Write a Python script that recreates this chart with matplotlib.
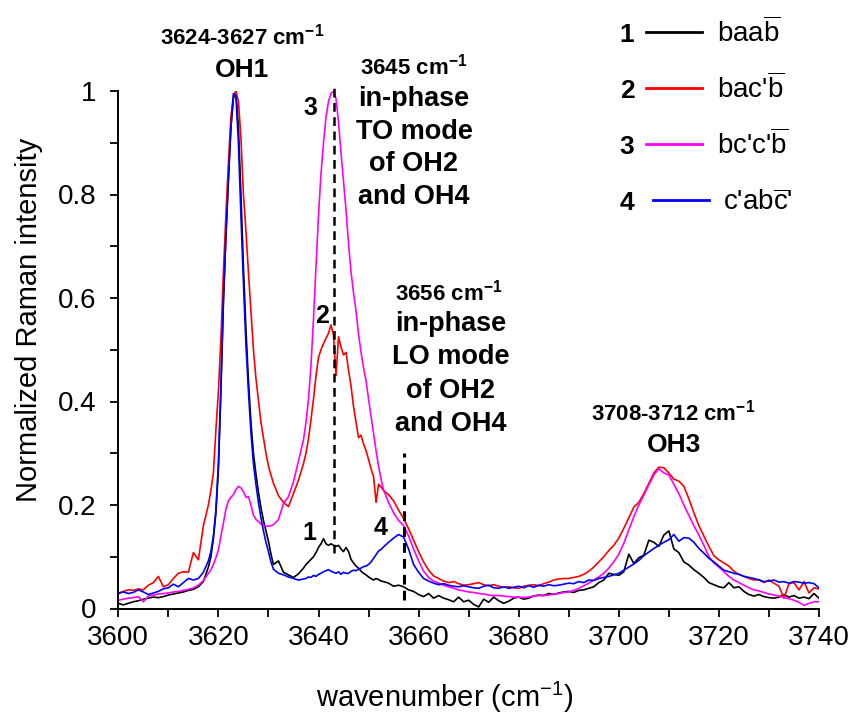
import numpy as np
import matplotlib
matplotlib.use("Agg")
import matplotlib.pyplot as plt
from matplotlib.ticker import MultipleLocator, FuncFormatter

plt.rcParams['font.family'] = ['Liberation Sans', 'DejaVu Sans']
plt.rcParams['mathtext.fontset'] = 'custom'
plt.rcParams['mathtext.rm'] = 'Liberation Sans'
plt.rcParams['mathtext.bf'] = 'Liberation Sans:bold'
plt.rcParams['mathtext.default'] = 'regular'

# ---------------- data ----------------
wavenumber = np.concatenate([
    np.arange(3600, 3618.01, 1.0),
    np.arange(3618.5, 3631.01, 0.5),
    np.arange(3632, 3637.01, 1.0),
    np.arange(3637.5, 3653.01, 0.5),
    np.arange(3654, 3740.01, 1.0),
])

spec1_baab = [
    0.010, 0.007, 0.010, 0.013, 0.015, 0.018, 0.020, 0.022, 0.021, 0.023,
    0.026, 0.028, 0.030, 0.032, 0.035, 0.037, 0.042, 0.052, 0.080,
    0.100, 0.135, 0.185, 0.270, 0.420, 0.590, 0.720, 0.830, 0.930, 0.985,
    1.000, 0.930, 0.800, 0.660, 0.540, 0.440, 0.360, 0.300, 0.260, 0.225,
    0.195, 0.170, 0.150, 0.130, 0.105, 0.085,
    0.092, 0.070, 0.065, 0.060, 0.067, 0.078,
    0.085, 0.090, 0.095, 0.100, 0.108, 0.118, 0.125, 0.135, 0.125, 0.122,
    0.125, 0.122, 0.120, 0.122, 0.115, 0.110, 0.118, 0.110, 0.095, 0.088,
    0.082, 0.078, 0.072, 0.068, 0.065, 0.061, 0.058, 0.055, 0.058, 0.056,
    0.053, 0.052,
    0.049, 0.043, 0.045, 0.042, 0.036, 0.033, 0.027, 0.023, 0.029, 0.020,
    0.025, 0.020, 0.017, 0.013, 0.022, 0.013, 0.016, 0.008, 0.003, 0.018,
    0.012, 0.022, 0.015, 0.010, 0.014, 0.020, 0.022, 0.018, 0.020, 0.024,
    0.026, 0.025, 0.029, 0.027, 0.030, 0.032, 0.033, 0.031, 0.035, 0.036,
    0.039, 0.042, 0.050, 0.055, 0.068, 0.066, 0.064, 0.071, 0.105, 0.087,
    0.098, 0.103, 0.132, 0.128, 0.120, 0.142, 0.150, 0.115, 0.108, 0.090,
    0.084, 0.075, 0.068, 0.060, 0.050, 0.046, 0.042, 0.040, 0.050, 0.040,
    0.042, 0.033, 0.027, 0.024, 0.027, 0.023, 0.021, 0.020, 0.022, 0.027,
    0.022, 0.025, 0.020, 0.022, 0.019, 0.029, 0.020,
]

spec2_bacb = [
    0.028, 0.033, 0.036, 0.035, 0.038, 0.036, 0.045, 0.050, 0.062, 0.042,
    0.046, 0.058, 0.068, 0.071, 0.070, 0.108, 0.094, 0.160, 0.200,
    0.228, 0.262, 0.345, 0.420, 0.520, 0.650, 0.760, 0.860, 0.950, 0.990,
    1.000, 0.980, 0.910, 0.800, 0.730, 0.650, 0.575, 0.500, 0.445, 0.403,
    0.360, 0.330, 0.300, 0.275, 0.258, 0.242,
    0.218, 0.205, 0.197, 0.222, 0.248, 0.280,
    0.300, 0.328, 0.365, 0.405, 0.450, 0.485, 0.500, 0.512, 0.522, 0.532,
    0.548, 0.528, 0.450, 0.525, 0.505, 0.490, 0.495, 0.460, 0.430, 0.390,
    0.360, 0.330, 0.335, 0.318, 0.305, 0.288, 0.270, 0.255, 0.205, 0.240,
    0.235, 0.228,
    0.220, 0.208, 0.190, 0.174, 0.154, 0.132, 0.110, 0.090, 0.074, 0.063,
    0.058, 0.053, 0.050, 0.052, 0.048, 0.045, 0.046, 0.048, 0.050, 0.046,
    0.044, 0.046, 0.043, 0.041, 0.042, 0.040, 0.039, 0.043, 0.045, 0.046,
    0.044, 0.048, 0.051, 0.055, 0.057, 0.058, 0.058, 0.060, 0.062, 0.066,
    0.072, 0.080, 0.090, 0.100, 0.112, 0.122, 0.136, 0.155, 0.175, 0.196,
    0.205, 0.222, 0.242, 0.262, 0.273, 0.272, 0.262, 0.250, 0.246, 0.236,
    0.212, 0.185, 0.160, 0.140, 0.120, 0.102, 0.094, 0.088, 0.082, 0.072,
    0.066, 0.062, 0.058, 0.055, 0.056, 0.050, 0.055, 0.049, 0.043, 0.020,
    0.048, 0.050, 0.036, 0.052, 0.030, 0.040, 0.038,
]

spec3_bccb = [
    0.016, 0.018, 0.020, 0.021, 0.023, 0.013, 0.024, 0.026, 0.028, 0.029,
    0.030, 0.032, 0.033, 0.035, 0.037, 0.040, 0.045, 0.054, 0.068,
    0.075, 0.085, 0.098, 0.113, 0.140, 0.165, 0.192, 0.208, 0.215, 0.220,
    0.230, 0.236, 0.233, 0.226, 0.215, 0.216, 0.200, 0.180, 0.172, 0.168,
    0.163, 0.160, 0.159, 0.159, 0.160, 0.162,
    0.172, 0.203, 0.216, 0.245, 0.285, 0.326,
    0.360, 0.405, 0.470, 0.560, 0.660, 0.760, 0.840, 0.900, 0.950, 0.980,
    0.995, 1.000, 0.985, 0.940, 0.880, 0.825, 0.770, 0.705, 0.650, 0.610,
    0.575, 0.530, 0.495, 0.465, 0.440, 0.405, 0.372, 0.338, 0.305, 0.275,
    0.250, 0.229,
    0.205, 0.185, 0.170, 0.160, 0.140, 0.115, 0.092, 0.072, 0.060, 0.053,
    0.049, 0.045, 0.042, 0.039, 0.036, 0.034, 0.032, 0.031, 0.029, 0.028,
    0.026, 0.025, 0.025, 0.024, 0.023, 0.022, 0.022, 0.021, 0.022, 0.024,
    0.025, 0.025, 0.026, 0.028, 0.029, 0.031, 0.032, 0.035, 0.039, 0.044,
    0.049, 0.055, 0.061, 0.068, 0.078, 0.090, 0.105, 0.126, 0.152, 0.177,
    0.200, 0.219, 0.239, 0.258, 0.270, 0.262, 0.258, 0.240, 0.222, 0.200,
    0.180, 0.160, 0.142, 0.122, 0.100, 0.088, 0.080, 0.071, 0.062, 0.055,
    0.050, 0.045, 0.040, 0.036, 0.034, 0.031, 0.028, 0.026, 0.024, 0.021,
    0.019, 0.016, 0.012, 0.006, 0.010, 0.013, 0.013,
]

spec4_cabc = [
    0.030, 0.032, 0.029, 0.031, 0.036, 0.032, 0.027, 0.030, 0.033, 0.038,
    0.040, 0.047, 0.042, 0.050, 0.058, 0.055, 0.058, 0.070, 0.092,
    0.110, 0.140, 0.190, 0.280, 0.430, 0.600, 0.720, 0.830, 0.930, 0.995,
    0.990, 0.900, 0.760, 0.630, 0.510, 0.420, 0.340, 0.280, 0.240, 0.205,
    0.175, 0.150, 0.128, 0.110, 0.090, 0.076,
    0.068, 0.065, 0.061, 0.058, 0.055, 0.057,
    0.058, 0.061, 0.060, 0.064, 0.062, 0.066, 0.068, 0.071, 0.073, 0.075,
    0.072, 0.070, 0.068, 0.071, 0.066, 0.070, 0.068, 0.068, 0.072, 0.074,
    0.073, 0.076, 0.078, 0.081, 0.082, 0.085, 0.090, 0.097, 0.104, 0.111,
    0.114, 0.119,
    0.128, 0.136, 0.143, 0.138, 0.115, 0.085, 0.070, 0.058, 0.053, 0.049,
    0.046, 0.048, 0.045, 0.043, 0.042, 0.044, 0.042, 0.040, 0.039, 0.043,
    0.045, 0.040, 0.039, 0.042, 0.039, 0.041, 0.043, 0.040, 0.044, 0.041,
    0.045, 0.043, 0.046, 0.044, 0.045, 0.047, 0.049, 0.048, 0.052, 0.050,
    0.055, 0.054, 0.058, 0.060, 0.062, 0.065, 0.068, 0.074, 0.080, 0.086,
    0.093, 0.102, 0.109, 0.116, 0.122, 0.128, 0.133, 0.143, 0.130, 0.137,
    0.136, 0.128, 0.116, 0.107, 0.097, 0.090, 0.082, 0.074, 0.071, 0.068,
    0.066, 0.062, 0.060, 0.058, 0.055, 0.052, 0.053, 0.055, 0.051, 0.052,
    0.049, 0.052, 0.051, 0.049, 0.050, 0.048, 0.040,
]

series_numbers = ['1', '2', '3', '4']
series_labels = [r'baa$\overline{b}$', r"bac'$\overline{b}$",
                 r"bc'c'$\overline{b}$", r"c'ab$\overline{c}$'"]
series_colors = ['#000000', '#ff0000', '#ff00ff', '#0000ff']
series_values = [spec1_baab, spec2_bacb, spec3_bccb, spec4_cabc]

to_mode_x = 3643.0
lo_mode_x = 3657.0

# ---------------- figure ----------------
W, H = 862, 721
fig = plt.figure(figsize=(W / 100, H / 100), dpi=100)
ax = fig.add_axes([118.3 / W, 1 - 608.5 / H, (819 - 118.3) / W, (608.5 - 91) / H])


def P(x, y):
    return (x / W, 1 - y / H)


for vals, col in zip(series_values, series_colors):
    ax.plot(wavenumber, vals, color=col, lw=1.2, solid_joinstyle='round')

ax.plot([to_mode_x, to_mode_x], [0.107, 1.016], color='black', lw=1.8,
        ls=(0, (3.5, 2.2)), clip_on=False)
ax.plot([lo_mode_x, lo_mode_x], [0.016, 0.30], color='black', lw=2.2,
        ls=(0, (3.2, 2.0)), clip_on=False)

ax.set_xlim(3600, 3740)
ax.set_ylim(0, 1)
for s in ['top', 'right']:
    ax.spines[s].set_visible(False)
for s in ['left', 'bottom']:
    ax.spines[s].set_linewidth(1.4)

ax.xaxis.set_major_locator(MultipleLocator(20))
ax.xaxis.set_minor_locator(MultipleLocator(10))
ax.yaxis.set_major_locator(MultipleLocator(0.2))
ax.yaxis.set_minor_locator(MultipleLocator(0.1))
ax.yaxis.set_major_formatter(FuncFormatter(lambda v, p: '%g' % round(v, 2)))
ax.tick_params(which='both', direction='out', length=6, width=1.3)
ax.tick_params(axis='x', which='major', labelsize=20, pad=6)
ax.tick_params(axis='y', which='major', labelsize=20, pad=10)

ax.set_xlabel('wavenumber (cm$^{-1}$)', fontsize=21)
ax.xaxis.set_label_coords(0.466, -0.137)
ax.set_ylabel('Normalized Raman intensity', fontsize=21)
ax.yaxis.set_label_coords(-0.108, 0.557)

# ---------------- annotations ----------------
bold = dict(fontweight='bold', ha='center', va='baseline')
fig.text(*P(242, 45), '3624-3627 cm$^{-1}$', fontsize=16, **bold)
fig.text(*P(242, 77), 'OH1', fontsize=19, **bold)

fig.text(*P(414, 74), '3645 cm$^{-1}$', fontsize=16, **bold)
for i, t in enumerate(['in-phase', 'TO mode', 'of OH2', 'and OH4']):
    fig.text(*P(414, 106 + 32.7 * i), t, fontsize=19.5, **bold)

fig.text(*P(449, 300), '3656 cm$^{-1}$', fontsize=16, **bold)
for i, t in enumerate(['in-phase', 'LO mode', 'of OH2', 'and OH4']):
    fig.text(*P(451, 331 + 33.3 * i), t, fontsize=19.5, **bold)

fig.text(*P(673, 420), '3708-3712 cm$^{-1}$', fontsize=16, **bold)
fig.text(*P(674, 452), 'OH3', fontsize=19, **bold)

# curve labels
for t, (x, y) in zip(['3', '2', '1', '4'], [(310, 115), (322, 323), (309, 540), (381, 535)]):
    fig.text(*P(x, y), t, fontsize=18, **bold)

# ---------------- legend ----------------
leg_rows_y = [32, 88, 144, 200]
leg_line_x = [(646, 702), (646, 702), (646, 702), (653, 709)]
leg_text_x = [717, 717, 717, 723]
for num, lab, col, yy, (x0, x1), tx in zip(series_numbers, series_labels, series_colors,
                                            leg_rows_y, leg_line_x, leg_text_x):
    fig.text(*P(627, yy + 10.5), num, fontsize=19, fontweight='bold',
             ha='center', va='baseline')
    fig.add_artist(plt.Line2D([x0 / W, x1 / W], [1 - yy / H, 1 - yy / H],
                              color=col, lw=2.0, transform=fig.transFigure))
    fig.text(*P(tx, yy + 10.5), lab, fontsize=20, ha='left', va='baseline')

fig.savefig('out.png', dpi=100)
